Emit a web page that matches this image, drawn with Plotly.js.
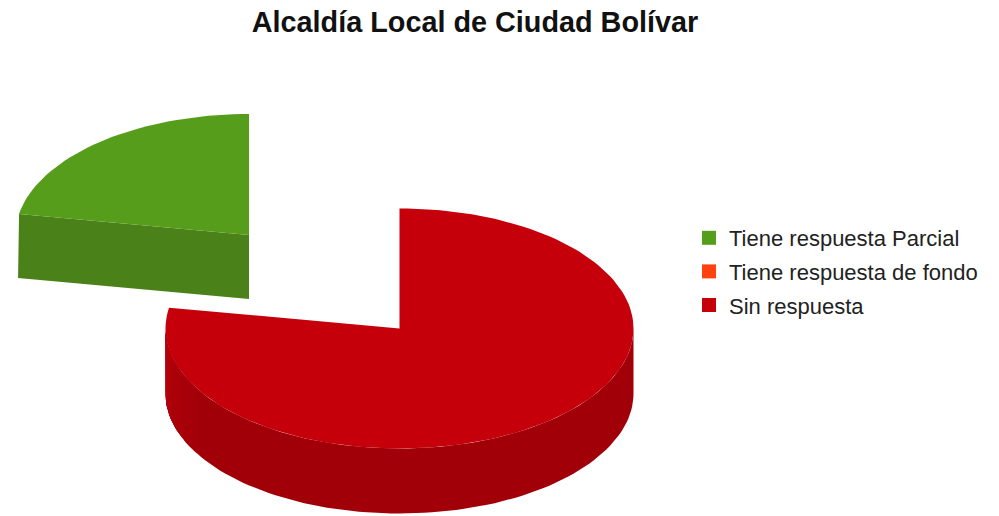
<!DOCTYPE html>
<html>
<head>
<meta charset="utf-8">
<script src="https://cdn.plot.ly/plotly-3.0.1.min.js"></script>
<style>html,body{margin:0;padding:0;background:#fff}#chart{width:999px;height:516px}</style>
</head>
<body>
<div id="chart"></div>
<script>
const chartTitle = "Alcaldía Local de Ciudad Bolívar";
const categories = ["Tiene respuesta Parcial", "Tiene respuesta de fondo", "Sin respuesta"];
const values = [2, 0, 7];
const topColors = ["#579d1c", "#ff420e", "#c5000b"];
const sideColors = ["#4a8118", "#cc350b", "#a10009"];
// lighter bands of the red outer wall near its left extreme: [from angle, colour]
const wallBandAngles = [240, 248, 256, 263];
const wallBandColors = ["#a50009", "#aa0009", "#b0000a", "#b7000a"];

// exploded-pie geometry, in the hidden axes' units
const pieces = [
  {cx: 249, cy: 235, rx: 233.5, ry: 121, depth: 64},
  {cx: 399.5, cy: 328.5, rx: 234, ry: 120, depth: 65},
  {cx: 399.5, cy: 328.5, rx: 234, ry: 120, depth: 65}
];

const total = values.reduce((a, b) => a + b, 0);
const firstAngle = -values[0] / total * 360;
const rad = d => d * Math.PI / 180;
function arc(p, a0, a1, dz) {
  const n = Math.max(2, Math.ceil(Math.abs(a1 - a0) / 2));
  const xs = [], ys = [];
  for (let i = 0; i <= n; i++) {
    const a = rad(a0 + (a1 - a0) * i / n);
    xs.push(p.cx + p.rx * Math.sin(a));
    ys.push(p.cy - p.ry * Math.cos(a) + dz);
  }
  return {xs, ys};
}
function wall(p, a0, a1, color) {
  const up = arc(p, a0, a1, 0), lo = arc(p, a1, a0, p.depth);
  return {type: "scatter", mode: "lines", x: up.xs.concat(lo.xs), y: up.ys.concat(lo.ys), fill: "toself",
    fillcolor: color, line: {width: 0, color: color}, showlegend: false, hoverinfo: "skip"};
}

const sideTraces = [], topTraces = [], legendTraces = [];
let cursor = firstAngle;
values.forEach((v, i) => {
  const a0 = cursor, a1 = cursor + v / total * 360;
  cursor = a1;
  const p = pieces[i];
  if (v > 0) {
    if (i === 0) {
      // exploded slice: its cut face toward the viewer runs from the outer edge to the centre
      const e = arc(p, a0, a0, 0);
      sideTraces.push({type: "scatter", mode: "lines",
        x: [e.xs[0], p.cx, p.cx, e.xs[0] - 1],
        y: [e.ys[0], p.cy, p.cy + p.depth, e.ys[0] + p.depth],
        fill: "toself", fillcolor: sideColors[i], line: {width: 0, color: sideColors[i]},
        showlegend: false, hoverinfo: "skip"});
    } else {
      // outer wall: from the right-hand extreme round the front to the left extreme
      const end = Math.min(a1, 270);
      sideTraces.push(wall(p, 90, end, sideColors[i]));
      wallBandAngles.forEach((b, k) => sideTraces.push(wall(p, b, end, wallBandColors[k])));
    }
    const t = arc(p, a0, a1, 0);
    topTraces.push({type: "scatter", mode: "lines", x: [p.cx].concat(t.xs, [p.cx]), y: [p.cy].concat(t.ys, [p.cy]),
      fill: "toself", fillcolor: topColors[i], line: {width: 0, color: topColors[i]}, showlegend: false,
      name: categories[i], hoverinfo: "skip"});
  }
  legendTraces.push({type: "scatter", mode: "markers", x: [null], y: [null], name: categories[i],
    legendgroup: "g" + i, marker: {symbol: "square", size: 14, color: topColors[i]}, hoverinfo: "skip"});
});

const layout = {
  width: 999, height: 516,
  margin: {l: 0, r: 0, t: 0, b: 0},
  paper_bgcolor: "#fff", plot_bgcolor: "#fff",
  hovermode: false,
  title: {text: "<b>" + chartTitle + "</b>", x: 0.4755, xanchor: "center", y: 0.957, yanchor: "middle",
    font: {family: "Liberation Sans, Arial, sans-serif", size: 28.8, color: "#111"}},
  xaxis: {range: [0, 999], visible: false, fixedrange: true},
  yaxis: {range: [516, 0], visible: false, fixedrange: true},
  showlegend: true,
  legend: {x: 694 / 999, y: 1 - 217 / 516, xanchor: "left", yanchor: "top", bgcolor: "rgba(0,0,0,0)",
    indentation: -5, tracegroupgap: 2, font: {family: "Liberation Sans, Arial, sans-serif", size: 22, color: "#222"}, traceorder: "grouped"}
};
Plotly.newPlot("chart", sideTraces.concat(topTraces, legendTraces), layout, {displayModeBar: false, staticPlot: true});
</script>
</body>
</html>
